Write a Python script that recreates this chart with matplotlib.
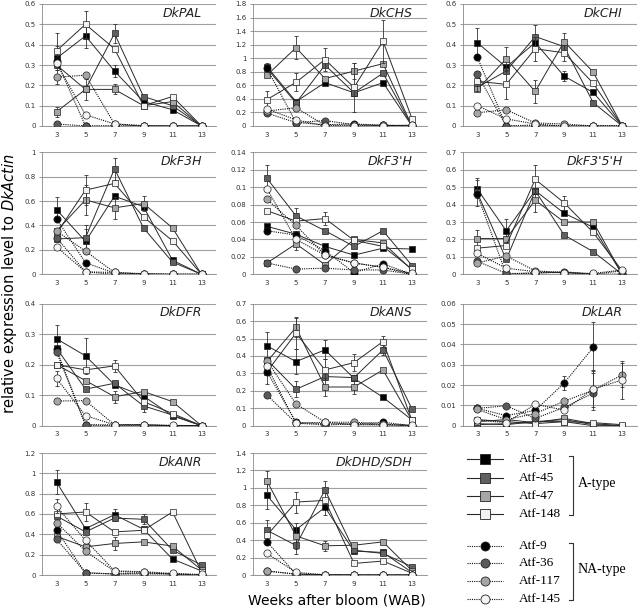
import numpy as np
import matplotlib
matplotlib.use("Agg")
import matplotlib.pyplot as plt
from matplotlib.lines import Line2D

plt.rcParams['mathtext.fontset'] = 'dejavusans'

weeks = [3, 5, 7, 9, 11, 13]
lines = ["Atf-31", "Atf-45", "Atf-47", "Atf-148", "Atf-9", "Atf-36", "Atf-117", "Atf-145"]
groups = ["A-type", "NA-type"]
fills = ['#000000', '#606060', '#a6a6a6', '#f2f2f2', '#000000', '#5a5a5a', '#a6a6a6', '#f4f4f4']

# values: rows in the order of `lines`
pal = [[0.333, 0.443, 0.27, 0.12, 0.08, 0.0],
       [0.30, 0.18, 0.455, 0.145, 0.10, 0.0],
       [0.07, 0.18, 0.18, 0.10, 0.12, 0.0],
       [0.37, 0.50, 0.38, 0.10, 0.145, 0.0],
       [0.32, 0.0, 0.0, 0.0, 0.0, 0.0],
       [0.01, 0.0, 0.0, 0.0, 0.0, 0.0],
       [0.24, 0.25, 0.01, 0.0, 0.0, 0.0],
       [0.31, 0.055, 0.01, 0.002, 0.0, 0.0]]
pal_err = [[0.06, 0.06, 0.03, 0, 0, 0], [0, 0, 0.045, 0, 0, 0], [0.025, 0.05, 0.025, 0, 0, 0],
           [0.085, 0.065, 0, 0, 0, 0], [0] * 6, [0] * 6, [0.035, 0, 0, 0, 0, 0], [0] * 6]

chs = [[0.875, 0.36, 0.64, 0.49, 0.64, 0.0],
       [0.85, 0.34, 0.90, 0.49, 0.78, 0.0],
       [0.75, 1.155, 0.70, 0.81, 0.92, 0.0],
       [0.39, 0.645, 0.98, 0.57, 1.25, 0.11],
       [0.85, 0.05, 0.02, 0.03, 0.01, 0.01],
       [0.19, 0.05, 0.08, 0.02, 0.01, 0.0],
       [0.22, 0.27, 0.01, 0.01, 0.01, 0.0],
       [0.25, 0.09, 0.0, 0.0, 0.0, 0.01]]
chs_err = [[0.06, 0, 0, 0, 0, 0], [0] * 6, [0, 0.17, 0, 0.12, 0, 0],
           [0.13, 0.13, 0.17, 0.36, 0.32, 0], [0] * 6, [0] * 6, [0] * 6, [0] * 6]

chi = [[0.41, 0.29, 0.41, 0.245, 0.165, 0.0],
       [0.19, 0.27, 0.44, 0.39, 0.115, 0.0],
       [0.18, 0.33, 0.17, 0.415, 0.265, 0.0],
       [0.22, 0.205, 0.38, 0.36, 0.21, 0.0],
       [0.34, 0.0, 0.0, 0.0, 0.0, 0.0],
       [0.255, 0.0, 0.005, 0.0, 0.0, 0.0],
       [0.065, 0.08, 0.015, 0.01, 0.0, 0.0],
       [0.10, 0.035, 0.01, 0.0, 0.0, 0.0]]
chi_err = [[0.07, 0, 0, 0.025, 0, 0], [0, 0, 0.055, 0, 0, 0], [0, 0.06, 0.055, 0.04, 0, 0],
           [0.05, 0.07, 0.06, 0.04, 0, 0], [0] * 6, [0] * 6, [0] * 6, [0] * 6]

f3h = [[0.53, 0.27, 0.64, 0.555, 0.115, 0.0],
       [0.29, 0.30, 0.865, 0.38, 0.10, 0.0],
       [0.355, 0.61, 0.545, 0.58, 0.38, 0.0],
       [0.335, 0.69, 0.745, 0.47, 0.275, 0.0],
       [0.455, 0.095, 0.01, 0.005, 0.0, 0.0],
       [0.30, 0.02, 0.0, 0.0, 0.0, 0.0],
       [0.355, 0.19, 0.015, 0.005, 0.0, 0.0],
       [0.225, 0.02, 0.015, 0.0, 0.0, 0.0]]
f3h_err = [[0.10, 0.1, 0, 0, 0, 0], [0, 0.1, 0.09, 0, 0, 0], [0, 0.12, 0.09, 0.06, 0, 0],
           [0, 0.12, 0, 0, 0, 0], [0] * 6, [0] * 6, [0] * 6, [0] * 6]

f3h2 = [[0.055, 0.046, 0.032, 0.022, 0.03, 0.029],
        [0.11, 0.067, 0.05, 0.032, 0.05, 0.01],
        [0.013, 0.035, 0.011, 0.04, 0.036, 0.005],
        [0.073, 0.061, 0.064, 0.039, 0.032, 0.006],
        [0.05, 0.045, 0.027, 0.002, 0.012, 0.0],
        [0.013, 0.006, 0.007, 0.005, 0.005, 0.0],
        [0.086, 0.056, 0.022, 0.013, 0.008, 0.0],
        [0.098, 0.04, 0.022, 0.013, 0.008, 0.001]]
f3h2_err = [[0] * 6, [0.015, 0.009, 0, 0, 0, 0], [0, 0.007, 0, 0, 0, 0],
            [0, 0, 0.008, 0, 0, 0], [0] * 6, [0] * 6, [0] * 6, [0] * 6]

f35h = [[0.49, 0.25, 0.48, 0.35, 0.27, 0.0],
        [0.47, 0.085, 0.48, 0.225, 0.13, 0.0],
        [0.205, 0.205, 0.425, 0.30, 0.30, 0.0],
        [0.15, 0.165, 0.545, 0.41, 0.24, 0.02],
        [0.46, 0.0, 0.01, 0.01, 0.0, 0.0],
        [0.075, 0.005, 0.005, 0.015, 0.0, 0.0],
        [0.065, 0.105, 0.02, 0.01, 0.0, 0.02],
        [0.12, 0.035, 0.015, 0.01, 0.005, 0.025]]
f35h_err = [[0.05, 0.07, 0, 0, 0, 0], [0.08, 0, 0, 0, 0, 0], [0.05, 0, 0.065, 0, 0, 0],
            [0, 0, 0.08, 0.04, 0, 0], [0] * 6, [0] * 6, [0] * 6, [0] * 6]

dfr = [[0.285, 0.229, 0.134, 0.097, 0.032, 0.0],
       [0.254, 0.12, 0.139, 0.065, 0.035, 0.0],
       [0.20, 0.148, 0.095, 0.112, 0.079, 0.0],
       [0.20, 0.183, 0.196, 0.079, 0.04, 0.0],
       [0.25, 0.003, 0.003, 0.003, 0.0, 0.0],
       [0.243, 0.002, 0.0, 0.0, 0.0, 0.0],
       [0.081, 0.082, 0.003, 0.003, 0.0, 0.0],
       [0.155, 0.033, 0.003, 0.003, 0.001, 0.0]]
dfr_err = [[0.045, 0.06, 0, 0, 0, 0], [0, 0, 0, 0.02, 0, 0], [0, 0, 0.02, 0, 0, 0],
           [0, 0, 0.02, 0, 0, 0], [0] * 6, [0] * 6, [0] * 6, [0.025, 0, 0, 0, 0, 0]]

ans = [[0.458, 0.368, 0.435, 0.272, 0.163, 0.033],
       [0.378, 0.209, 0.282, 0.276, 0.435, 0.096],
       [0.368, 0.564, 0.222, 0.222, 0.32, 0.03],
       [0.31, 0.531, 0.32, 0.362, 0.483, 0.03],
       [0.31, 0.02, 0.01, 0.01, 0.02, 0.0],
       [0.176, 0.015, 0.004, 0.01, 0.005, 0.0],
       [0.372, 0.125, 0.02, 0.02, 0.01, 0.0],
       [0.34, 0.013, 0.02, 0.005, 0.005, 0.003]]
ans_err = [[0.08, 0.07, 0.055, 0, 0, 0], [0, 0.045, 0, 0, 0.03, 0], [0, 0.055, 0.05, 0.04, 0, 0],
           [0.07, 0.09, 0.06, 0.05, 0.03, 0], [0] * 6, [0] * 6, [0] * 6, [0] * 6]

lar = [[0.0005, 0.001, 0.002, 0.002, 0.0, 0.0],
       [0.001, 0.0005, 0.002, 0.003, 0.0005, 0.0],
       [0.002, 0.003, 0.0015, 0.0036, 0.001, 0.0],
       [0.003, 0.002, 0.001, 0.002, 0.0015, 0.0005],
       [0.0085, 0.005, 0.0075, 0.021, 0.0385, np.nan],
       [0.0085, 0.0098, 0.0036, 0.009, 0.016, np.nan],
       [0.008, 0.003, 0.006, 0.012, 0.0175, 0.025],
       [0.0028, 0.0015, 0.0105, 0.0077, 0.018, 0.0225]]
lar_err = [[0] * 6, [0] * 6, [0] * 6, [0] * 6, [0, 0, 0, 0.0035, 0.0125, 0], [0] * 6,
           [0, 0, 0, 0, 0.01, 0.006], [0, 0, 0, 0, 0.009, 0.0095]]

anr = [[0.913, 0.456, 0.593, 0.45, 0.157, 0.04],
       [0.58, 0.424, 0.56, 0.548, 0.245, 0.098],
       [0.38, 0.277, 0.31, 0.326, 0.284, 0.05],
       [0.60, 0.62, 0.424, 0.44, 0.62, 0.03],
       [0.44, 0.02, 0.01, 0.02, 0.01, 0.0],
       [0.352, 0.023, 0.01, 0.01, 0.01, 0.0],
       [0.515, 0.235, 0.035, 0.025, 0.01, 0.0],
       [0.675, 0.342, 0.04, 0.033, 0.015, 0.005]]
anr_err = [[0.12, 0, 0.06, 0, 0, 0], [0, 0, 0, 0.05, 0, 0], [0, 0, 0.06, 0, 0, 0],
           [0, 0.09, 0, 0, 0, 0], [0] * 6, [0] * 6, [0] * 6, [0.07, 0, 0, 0, 0, 0]]

dhd = [[0.913, 0.52, 0.776, 0.274, 0.259, 0.03],
       [0.513, 0.339, 0.977, 0.285, 0.247, 0.095],
       [1.076, 0.449, 0.335, 0.342, 0.38, 0.05],
       [0.456, 0.837, 0.856, 0.133, 0.16, 0.02],
       [0.38, 0.01, 0.003, 0.0, 0.0, 0.0],
       [0.046, 0.01, 0.0, 0.0, 0.0, 0.0],
       [0.045, 0.01, 0.003, 0.0, 0.0, 0.0],
       [0.247, 0.03, 0.003, 0.002, 0.001, 0.001]]
dhd_err = [[0.15, 0, 0.09, 0, 0, 0], [0.12, 0.1, 0.1, 0, 0, 0], [0.12, 0.15, 0.06, 0, 0, 0],
           [0, 0.12, 0, 0, 0, 0], [0] * 6, [0] * 6, [0] * 6, [0] * 6]

titles = ["DkPAL", "DkCHS", "DkCHI", "DkF3H", "DkF3'H", "DkF3'5'H",
          "DkDFR", "DkANS", "DkLAR", "DkANR", "DkDHD/SDH"]
panel_vals = [pal, chs, chi, f3h, f3h2, f35h, dfr, ans, lar, anr, dhd]
panel_errs = [pal_err, chs_err, chi_err, f3h_err, f3h2_err, f35h_err, dfr_err, ans_err, lar_err, anr_err, dhd_err]
ymax = [0.6, 1.8, 0.6, 1.0, 0.14, 0.7, 0.4, 0.7, 0.06, 1.2, 1.4]
ystep = [0.1, 0.2, 0.1, 0.2, 0.02, 0.1, 0.1, 0.1, 0.01, 0.2, 0.2]

W, H = 638, 614
fig = plt.figure(figsize=(W / 100, H / 100), dpi=100)

col_left = [42, 252.5, 462.7]
row_bottom = [126, 274.3, 425.7, 575]
aw, ah = 174, 122

for k in range(11):
    r, c = divmod(k, 3)
    ax = fig.add_axes([col_left[c] / W, 1 - row_bottom[r] / H, aw / W, ah / H])
    vals = panel_vals[k]
    errs = panel_errs[k]
    for i, name in enumerate(lines):
        v = np.array(vals[i], dtype=float)
        e = np.array(errs[i], dtype=float)
        m = e > 0
        if m.any():
            ax.errorbar(np.array(weeks)[m], v[m], yerr=e[m], fmt='none', ecolor='#333333',
                        elinewidth=0.6, capsize=1.5, capthick=0.6, zorder=2 + i)
        if i < 4:
            ax.plot(weeks, v, '-', color='#2a2a2a', lw=0.7, marker='s', ms=5,
                    mfc=fills[i], mec='#222222', mew=0.5, zorder=3 + i)
        else:
            ax.plot(weeks, v, color='#111111', lw=0.8, ls=(0, (1, 1)), marker='o', ms=5.2,
                    mfc=fills[i], mec='#222222', mew=0.5, zorder=3 + i)
    ax.set_xlim(2, 14)
    ax.set_ylim(0, ymax[k])
    ticks = np.round(np.arange(0, ymax[k] + ystep[k] / 2, ystep[k]), 4)
    ax.set_yticks(ticks)
    ax.set_yticklabels([f"{t:g}" for t in ticks])
    ax.set_xticks(weeks)
    ax.tick_params(axis='both', labelsize=5, colors='#333333', pad=2)
    ax.tick_params(axis='x', length=0, pad=4)
    ax.tick_params(axis='y', length=2.5, color='#888888', width=0.6)
    ax.yaxis.grid(True, color='#a0a0a0', lw=0.8)
    ax.set_axisbelow(True)
    for s in ['top', 'right']:
        ax.spines[s].set_visible(False)
    ax.spines['left'].set_color('#888888')
    ax.spines['bottom'].set_color('#888888')
    ax.spines['left'].set_linewidth(0.6)
    ax.spines['bottom'].set_linewidth(0.6)
    ax.text(0.92, 0.925, titles[k], transform=ax.transAxes, ha='right', va='center',
            fontsize=9, style='italic', color='#222222')

fig.text(10 / W, 1 - 284 / H, r"relative expression level to $\mathit{DkActin}$",
         rotation=90, ha='center', va='center', fontsize=10.5)
fig.text(337 / W, 1 - 600 / H, "Weeks after bloom (WAB)", ha='center', va='center', fontsize=10)

# legend drawn in figure pixels
leg_y = [459, 478, 496, 514, 546, 563, 581, 599]
for i, name in enumerate(lines):
    y = 1 - leg_y[i] / H
    if i < 4:
        fig.add_artist(Line2D([467 / W, 503 / W], [y, y], color='#2a2a2a', lw=0.8))
        fig.add_artist(Line2D([485 / W], [y], marker='s', ms=6.5, mfc=fills[i], mec='#222222', mew=0.6))
    else:
        fig.add_artist(Line2D([467 / W, 503 / W], [y, y], color='#111111', lw=0.8, ls=(0, (1, 1))))
        fig.add_artist(Line2D([485 / W], [y], marker='o', ms=6.5, mfc=fills[i], mec='#222222', mew=0.6))
    fig.text(519 / W, y, name, ha='left', va='center', fontsize=9.5, family='Liberation Serif')

for (y0, y1, yt), g in zip([(456, 515, 483), (543, 600, 570)], groups):
    xs = [569 / W, 573 / W, 573 / W, 569 / W]
    ys = [1 - y0 / H, 1 - y0 / H, 1 - y1 / H, 1 - y1 / H]
    fig.add_artist(Line2D(xs, ys, color='#333333', lw=0.8))
    fig.text(578 / W, 1 - yt / H, g, ha='left', va='center', fontsize=10, family='Liberation Serif')

fig.savefig("out.png", dpi=100)
